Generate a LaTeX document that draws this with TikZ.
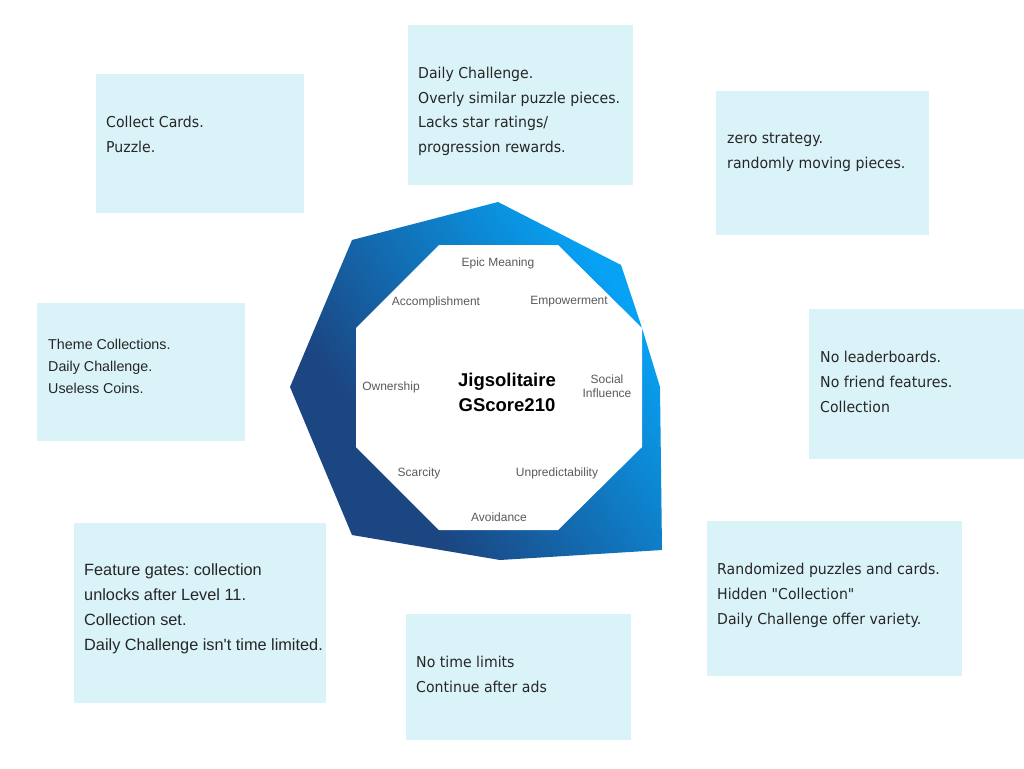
\documentclass[tikz,border=0pt]{standalone}
\usepackage{fontspec}
\setmainfont{Liberation Sans}
\newfontfamily\tah[FakeStretch=0.94]{DejaVu Sans}
\newfontfamily\rob{Liberation Sans}
\frenchspacing
\definecolor{boxcol}{HTML}{DAF3F9}
\definecolor{txtcol}{HTML}{262626}
\definecolor{lblcol}{HTML}{5A5A5A}
\definecolor{darkb}{HTML}{1B4682}
\definecolor{lightb}{HTML}{07A2F4}
\pgfdeclareverticalshading{octshade}{100bp}{color(0bp)=(darkb); color(34bp)=(darkb); color(73bp)=(lightb); color(100bp)=(lightb)}
\begin{document}
\begin{tikzpicture}[x=1pt,y=-1pt,
  notebox/.style={fill=boxcol,draw=none,inner sep=0pt,anchor=north west},
  tahtext/.style={inner sep=0pt,anchor=north west,align=left,text=txtcol,font=\tah\fontsize{15}{24.7}\selectfont},
  robtext/.style={inner sep=0pt,anchor=north west,align=left,text=txtcol},
  lbl/.style={inner sep=0pt,text=lblcol,font=\rob\fontsize{12}{14.5}\selectfont,align=center}]
\useasboundingbox (0,0) rectangle (1024,768);
\fill[white] (0,0) rectangle (1024,768);

% text boxes
\node[notebox,minimum width=208pt,minimum height=139pt] (b1) at (96,74) {};
\node[tahtext] (t1) at (106,116) {Collect Cards.\\Puzzle.};

\node[notebox,minimum width=225pt,minimum height=160pt] (b2) at (408,25) {};
\node[tahtext] (t2) at (418,67) {Daily Challenge.\\Overly similar puzzle pieces.\\Lacks star ratings/\\progression rewards.};

\node[notebox,minimum width=213pt,minimum height=144pt] (b3) at (716,91) {};
\node[tahtext] (t3) at (727,133) {zero strategy.\\randomly moving pieces.};

\node[notebox,minimum width=208pt,minimum height=138pt] (b4) at (37,303) {};
\node[robtext,font=\rob\fontsize{14.3}{22}\selectfont] (t4) at (48,338.5) {Theme Collections.\\Daily Challenge.\\Useless Coins.};

\node[notebox,minimum width=215pt,minimum height=150pt] (b5) at (809,309) {};
\node[tahtext] (t5) at (820,351) {No leaderboards.\\No friend features.\\Collection};

\node[notebox,minimum width=252pt,minimum height=180pt] (b6) at (74,523) {};
\node[robtext,font=\rob\fontsize{16.3}{25}\selectfont] (t6) at (84,563.5) {Feature gates: collection\\unlocks after Level 11.\\Collection set.\\Daily Challenge isn't time limited.};

\node[notebox,minimum width=255pt,minimum height=155pt] (b7) at (707,521) {};
\node[tahtext] (t7) at (717,563) {Randomized puzzles and cards.\\Hidden "Collection"\\Daily Challenge offer variety.};

\node[notebox,minimum width=225pt,minimum height=126pt] (b8) at (406,614) {};
\node[tahtext] (t8) at (416,656) {No time limits\\Continue after ads};

% outer gradient polygon
\path[shading=octshade,shading angle=-55]
  (498,202) -- (621,265) -- (642,328) -- (660,387) -- (662,550) -- (500,560)
  -- (352,535) -- (290,387) -- (352,240) -- cycle;
% inner octagon
\fill[white] (439,245) -- (558,245) -- (642,328) -- (642,447) -- (558,530)
  -- (439,530) -- (356,447) -- (356,328) -- cycle;

% labels
\node[lbl] (epic) at (498,263) {Epic Meaning};
\node[lbl] (accomp) at (436,302) {Accomplishment};
\node[lbl] (empow) at (569,302) {Empowerment};
\node[lbl] (owner) at (391,387) {Ownership};
\node[lbl] (social) at (607,386) {Social\\Influence};
\node[lbl] (scarc) at (419,473) {Scarcity};
\node[lbl] (unpred) at (557,473) {Unpredictability};
\node[lbl] (avoid) at (499,517) {Avoidance};
\node[inner sep=0pt,align=center,text=black,font=\rob\bfseries\fontsize{18.5}{25}\selectfont] (title) at (507,392) {Jigsolitaire\\GScore210};
\end{tikzpicture}
\end{document}
